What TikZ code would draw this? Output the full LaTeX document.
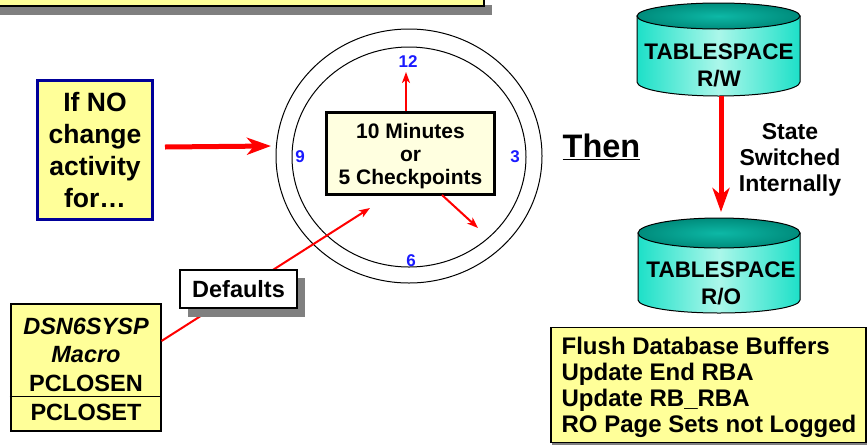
\documentclass[tikz,border=0pt]{standalone}
\usepackage{fontspec}
\setmainfont{Liberation Sans}
\usetikzlibrary{shapes, arrows, arrows.meta}
\definecolor{paleyellow}{HTML}{FFFF99}
\definecolor{creamyellow}{HTML}{FFFFE0}
\definecolor{shadowgray}{HTML}{808080}
\definecolor{clockblue}{HTML}{1A1AFF}
\definecolor{boxnavy}{HTML}{000099}
\definecolor{tealside}{HTML}{1DE0C8}
\definecolor{tealmid}{HTML}{ABF7EA}
\definecolor{tealdark}{HTML}{008C7C}
\definecolor{tealtop}{HTML}{0DB8A6}
\tikzstyle{thinred} = [draw, red, line width=2pt, -{Stealth[length=11pt,width=8pt,inset=3pt]}]
\tikzstyle{fatred} = [draw, red, line width=5pt, -{Stealth[length=24pt,width=17pt,inset=7pt]}]
\tikzstyle{box} = [draw=black, line width=2pt, fill=paleyellow, inner sep=0pt, align=center, font=\bfseries]
\tikzstyle{hour} = [text=clockblue, inner sep=0pt, font=\bfseries\fontsize{17}{17}\selectfont]
\tikzstyle{drumtext} = [inner sep=0pt, align=center, font=\bfseries\fontsize{22.5}{27}\selectfont]
\tikzstyle{macrotext} = [inner sep=0pt, font=\bfseries\fontsize{23.5}{23.5}\selectfont]
\begin{document}
\begin{tikzpicture}[x=1pt, y=-1pt]
\useasboundingbox (0,0) rectangle (867,445);

%Clipped box at the top
\fill [shadowgray] (-5,5) rectangle (492,15);
\draw [line width=2pt, fill=paleyellow] (-5,-5) rectangle (484,6);

%Clock rings
\draw [line width=1pt] (409,156) ellipse (133 and 127);
\draw [line width=1pt] (409,157) ellipse (117 and 110);

%Hours
\node (h12) [hour] at (408,62) {12};
\node (h3) [hour] at (515,157) {3};
\node (h6) [hour] at (411,261) {6};
\node (h9) [hour] at (300,157) {9};

%Long arrow, under the labels
\node (macro) [box, minimum width=150pt, minimum height=127pt] at (85.5,367) {};
\coordinate (longtip) at (370,208);
\draw [thinred] (macro.east |- 0,341) -- (longtip);

%Boxes
\node (timebox) [box, fill=creamyellow, line width=2.5pt, minimum width=168pt, minimum height=82pt] at (410.5,153.5) {};
\node (timetext) [inner sep=0pt, align=center, font=\bfseries\fontsize{21}{23}\selectfont] at (410.5,156) {10 Minutes\\or\\5 Checkpoints};
\node (nochange) [box, draw=boxnavy, line width=2.5pt, minimum width=115pt, minimum height=139pt,
  font=\bfseries\fontsize{26.5}{32}\selectfont] at (95,150) {If NO\\change\\activity\\for\dots};
\fill [shadowgray] (188,278) rectangle (305,317);
\node (defaults) [box, fill=white, line width=2.5pt, minimum width=117pt, minimum height=38pt,
  font=\bfseries\fontsize{23.5}{23.5}\selectfont] at (238.5,289) {Defaults};

%Text of the macro box
\draw [line width=1pt] (macro.west |- 0,396) -- (macro.east |- 0,396);
\node (dsn) [macrotext, font=\bfseries\itshape\fontsize{23.5}{23.5}\selectfont] at (86,326) {DSN6SYSP};
\node (mac) [macrotext, font=\bfseries\itshape\fontsize{23.5}{23.5}\selectfont] at (86,355) {Macro};
\node (closen) [macrotext] at (86,383) {PCLOSEN};
\node (closet) [macrotext] at (86,412) {PCLOSET};

%Clock hands and the activity arrow
\coordinate (handup) at (406,72);
\coordinate (handdown) at (478,228);
\coordinate (activity) at (165,147);
\coordinate (clockleft) at (271,146);
\draw [thinred] (timebox.north -| handup) -- (handup);
\draw [thinred] (442,195) -- (handdown);
\draw [fatred] (activity) -- (clockleft);

%Then
\node (then) [inner sep=0pt, font=\bfseries\fontsize{32.5}{32.5}\selectfont] at (601.5,147) {\underline{Then}};

%Upper drum
\draw [line width=1pt, left color=tealside, right color=tealside, middle color=tealmid]
  (637,16) -- (637,82) arc (180:0:81.5 and 14) -- (800,16) -- cycle;
\draw [line width=1pt, inner color=tealtop, outer color=tealdark] (718.5,16) ellipse (81.5 and 13);
\node (rw) [drumtext] at (719,65) {TABLESPACE\\R/W};

%Lower drum
\draw [line width=1pt, left color=tealside, right color=tealside, middle color=tealmid]
  (638,233) -- (638,300) arc (180:0:81 and 13) -- (800,233) -- cycle;
\draw [line width=1pt, inner color=tealtop, outer color=tealdark] (719,233) ellipse (81 and 15);
\node (ro) [drumtext] at (721,283) {TABLESPACE\\R/O};

%Switch arrow
\coordinate (rwbottom) at (721,96);
\coordinate (robove) at (721,212);
\draw [fatred] (rwbottom) -- (robove);
\node (state) [inner sep=0pt, align=center, font=\bfseries\fontsize{23}{26}\selectfont] at (790,160) {State\\Switched\\Internally};

%Bottom right box
\fill [shadowgray] (552,329) rectangle (867.5,444.5);
\node (flush) [box, line width=1.2pt, minimum width=315pt, minimum height=115pt] at (708.5,385) {};
\node (flushtext) [inner sep=0pt, align=left, font=\bfseries\fontsize{24}{26}\selectfont] at (709,387.5) {Flush Database Buffers\\Update End RBA\\Update RB\_RBA\\RO Page Sets not Logged};

\end{tikzpicture}
\end{document}
